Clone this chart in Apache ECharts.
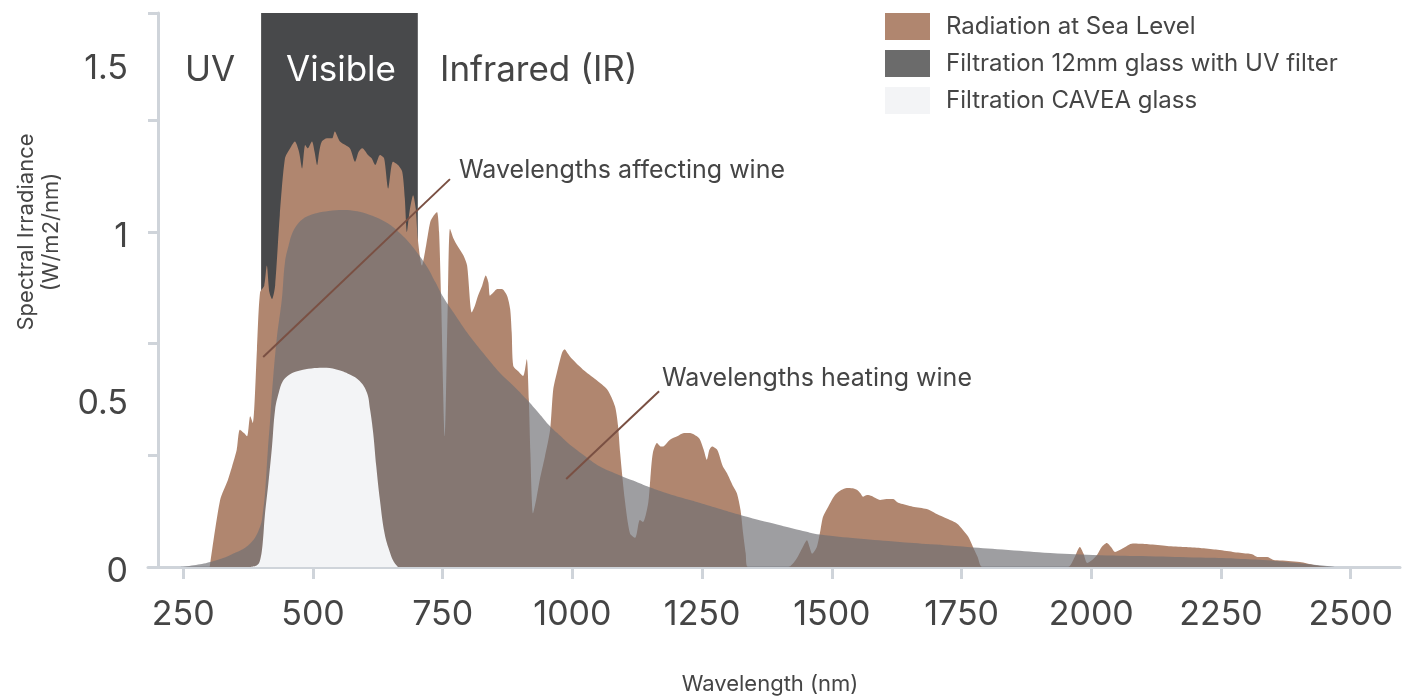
<!DOCTYPE html>
<html><head><meta charset="utf-8">
<script src="https://cdn.jsdelivr.net/npm/echarts@6/dist/echarts.min.js"></script>
<style>html,body{margin:0;padding:0;background:#fff}#c{width:1406px;height:697px}</style>
</head><body><div id="c"></div>
<script>
const FONT = 'Inter, "Open Sans", sans-serif';
const xTicks = [250, 500, 750, 1000, 1250, 1500, 1750, 2000, 2250, 2500];
const yLabels = [0, 0.5, 1, 1.5];
const yTicks = [0, 1/3, 2/3, 1, 4/3, 1.654];
const seriesNames = ['Radiation at Sea Level', 'Filtration 12mm glass with UV filter', 'Filtration CAVEA glass'];
const visibleBand = [400, 702];
const bandTexts = ['UV', 'Visible', 'Infrared (IR)'];
const noteTexts = ['Wavelengths affecting wine', 'Wavelengths heating wine'];
const affectingLine = [[404, 0.627], [764, 1.158]];
const heatingLine = [[988, 0.263], [1167, 0.525]];

const seaLevel = [[301,0],[321,0.20],[336,0.26],[344,0.30],[353,0.35],[359,0.41],[367,0.40],[373,0.39],[379,0.45],[384,0.43],[392,0.65],[398,0.82],[406,0.84],[411,0.90],[416,0.82],[421,0.80],[427,0.84],[436,1.05],[446,1.22],[456,1.25],[465,1.27],[473,1.24],[479,1.19],[485,1.26],[490,1.25],[498,1.27],[503,1.24],[508,1.20],[512,1.24],[517,1.27],[527,1.28],[537,1.28],[542,1.30],[552,1.27],[571,1.25],[581,1.21],[588,1.24],[595,1.25],[606,1.23],[613,1.22],[620,1.20],[629,1.23],[637,1.22],[645,1.13],[654,1.21],[664,1.20],[672,1.18],[677,1.10],[681,1.00],[686,1.06],[693,1.11],[698,1.07],[702,0.98],[710,0.90],[718,0.96],[726,1.03],[733,1.05],[739,1.06],[743,1.00],[747,0.80],[754,0.39],[760,0.80],[764,1.01],[771,0.98],[778,0.96],[790,0.93],[797,0.90],[806,0.76],[812,0.78],[818,0.81],[826,0.84],[833,0.87],[838,0.85],[841,0.81],[848,0.82],[855,0.83],[864,0.83],[874,0.81],[880,0.77],[883,0.70],[886,0.60],[895,0.585],[905,0.57],[912,0.62],[916,0.50],[919,0.34],[924,0.16],[930,0.20],[937,0.26],[947,0.33],[957,0.41],[963,0.53],[970,0.58],[980,0.64],[985,0.65],[990,0.64],[1000,0.62],[1020,0.59],[1045,0.56],[1067,0.53],[1082,0.48],[1088,0.42],[1092,0.34],[1101,0.20],[1111,0.10],[1121,0.087],[1130,0.14],[1136,0.134],[1146,0.19],[1150,0.26],[1155,0.34],[1163,0.37],[1170,0.36],[1175,0.36],[1182,0.37],[1188,0.38],[1202,0.39],[1215,0.40],[1227,0.40],[1240,0.39],[1246,0.38],[1253,0.35],[1259,0.32],[1264,0.35],[1269,0.36],[1279,0.35],[1290,0.30],[1298,0.28],[1310,0.24],[1317,0.22],[1324,0.17],[1329,0.10],[1334,0.04],[1338,0],[1416,0],[1430,0.02],[1444,0.06],[1452,0.08],[1457,0.06],[1462,0.04],[1471,0.06],[1478,0.11],[1483,0.15],[1493,0.18],[1506,0.215],[1518,0.23],[1529,0.236],[1540,0.235],[1549,0.23],[1555,0.22],[1560,0.21],[1568,0.215],[1577,0.212],[1585,0.205],[1593,0.20],[1605,0.203],[1618,0.203],[1625,0.195],[1631,0.19],[1656,0.18],[1683,0.173],[1700,0.16],[1714,0.15],[1741,0.13],[1753,0.11],[1763,0.09],[1772,0.06],[1781,0.03],[1790,0],[1955,0],[1968,0.03],[1978,0.06],[1985,0.04],[1992,0.012],[2001,0.02],[2011,0.036],[2020,0.06],[2030,0.072],[2038,0.06],[2046,0.045],[2060,0.055],[2080,0.07],[2110,0.068],[2146,0.063],[2180,0.06],[2210,0.057],[2240,0.052],[2273,0.045],[2300,0.04],[2310,0.038],[2320,0.03],[2339,0.03],[2350,0.022],[2358,0.02],[2380,0.018],[2402,0.015],[2430,0.006],[2454,0]];

const glass12mm = [[244,0],[270,0.005],[302,0.015],[340,0.035],[379,0.07],[398,0.12],[404,0.17],[408,0.23],[413,0.35],[417,0.43],[421,0.52],[430,0.68],[440,0.80],[446,0.91],[453,0.96],[461,1.0],[471,1.025],[481,1.04],[494,1.05],[508,1.057],[530,1.063],[558,1.066],[585,1.062],[610,1.051],[630,1.038],[649,1.021],[665,1.0],[681,0.976],[700,0.94],[720,0.896],[736,0.85],[751,0.806],[775,0.75],[797,0.70],[830,0.635],[860,0.58],[887,0.54],[912,0.50],[935,0.46],[957,0.42],[980,0.387],[1001,0.358],[1027,0.328],[1053,0.30],[1085,0.278],[1117,0.258],[1150,0.237],[1182,0.22],[1214,0.205],[1246,0.191],[1278,0.176],[1310,0.161],[1343,0.147],[1375,0.134],[1407,0.122],[1439,0.11],[1477,0.097],[1550,0.085],[1631,0.075],[1700,0.067],[1761,0.06],[1840,0.051],[1921,0.042],[2017,0.035],[2110,0.032],[2210,0.028],[2280,0.025],[2339,0.02],[2400,0.011],[2440,0.005],[2470,0]];

const caveaGlass = [[380,0],[392,0.005],[398,0.02],[403,0.07],[407,0.15],[414,0.25],[421,0.36],[427,0.47],[434,0.52],[442,0.555],[455,0.575],[475,0.587],[497,0.593],[519,0.595],[545,0.59],[571,0.575],[590,0.555],[604,0.52],[610,0.47],[616,0.40],[622,0.30],[629,0.20],[638,0.10],[648,0.045],[656,0.015],[664,0]];

const COLORS = { sea: '#b0866f', glass: 'rgba(112,112,116,0.68)', glassLegend: '#6b6b6b', cavea: '#f3f4f6', band: '#48494b', axis: '#cfd4da', text: '#454545', note: '#7a5043' };

const chart = echarts.init(document.getElementById('c'));
const areaSeries = (name, data, color, z, smooth) => ({
  name, type: 'line', data, z, smooth, symbol: 'none', showSymbol: false,
  lineStyle: { width: 0 }, itemStyle: { color },
  areaStyle: { color, opacity: 1 }, emphasis: { disabled: true }, silent: true
});
const s1 = areaSeries(seriesNames[0], seaLevel, COLORS.sea, 2, 0.25);
s1.markArea = { silent: true, itemStyle: { color: COLORS.band }, label: { show: false },
  data: [[{ xAxis: visibleBand[0] }, { xAxis: visibleBand[1] }]] };
const s2 = areaSeries(seriesNames[1], glass12mm, COLORS.glass, 3, 0.4);
const s3 = areaSeries(seriesNames[2], caveaGlass, COLORS.cavea, 4, 0.4);
s3.markLine = { silent: true, symbol: 'none', label: { show: false },
  lineStyle: { color: COLORS.note, width: 2, type: 'solid' },
  data: [[{ coord: affectingLine[0] }, { coord: affectingLine[1] }], [{ coord: heatingLine[0] }, { coord: heatingLine[1] }]] };

const txt = (text, x, y, size, fill, align) => ({ type: 'text', x, y, z: 100, silent: true,
  style: { text, fill, fontSize: size, fontFamily: FONT, align, verticalAlign: 'middle' } });

chart.setOption({
  animation: false,
  textStyle: { fontFamily: FONT },
  grid: { left: 148, right: 6, top: 13, bottom: 130 },
  legend: {
    orient: 'vertical', left: 885, top: 13, padding: 0, itemWidth: 45, itemHeight: 27, itemGap: 10,
    icon: 'rect', selectedMode: false,
    textStyle: { fontSize: 24, color: COLORS.text, fontFamily: FONT, padding: [0, 0, 0, 11] },
    data: [
      { name: seriesNames[0], itemStyle: { color: COLORS.sea } },
      { name: seriesNames[1], itemStyle: { color: COLORS.glassLegend } },
      { name: seriesNames[2], itemStyle: { color: COLORS.cavea } }
    ]
  },
  xAxis: {
    type: 'value', min: 182, max: 2595, splitLine: { show: false },
    axisLine: { lineStyle: { color: COLORS.axis, width: 3 } },
    axisTick: { customValues: xTicks, length: 12, lineStyle: { color: COLORS.axis, width: 3 } },
    axisLabel: { customValues: xTicks, fontSize: 34, color: COLORS.text, margin: 31, fontFamily: FONT,
      formatter: v => String(v) }
  },
  yAxis: {
    type: 'value', min: 0, max: 1.654, offset: -10, splitLine: { show: false },
    axisLine: { show: true, lineStyle: { color: COLORS.axis, width: 3 } },
    axisTick: { show: true, customValues: yTicks, length: 10, lineStyle: { color: COLORS.axis, width: 3 } },
    axisLabel: { customValues: yLabels, color: COLORS.text, margin: 30, fontFamily: FONT,
      formatter: v => '{a|' + String(v) + '}',
      rich: { a: { fontSize: 34, color: COLORS.text, fontFamily: FONT, padding: [9, 0, 0, 0] } } }
  },
  graphic: [
    txt(bandTexts[0], 210, 70, 35, COLORS.text, 'center'),
    txt(bandTexts[1], 341, 70, 35, '#ffffff', 'center'),
    txt(bandTexts[2], 440, 70, 35, COLORS.text, 'left'),
    txt(noteTexts[0], 459, 170, 25, COLORS.text, 'left'),
    txt(noteTexts[1], 662, 378, 25, COLORS.text, 'left'),
    txt('Wavelength (nm)', 770, 684, 22, COLORS.text, 'center'),
    { type: 'text', x: 39, y: 232, rotation: Math.PI / 2, z: 100, silent: true,
      style: { text: 'Spectral Irradiance\n(W/m2/nm)', fill: COLORS.text, fontSize: 22, lineHeight: 25,
        fontFamily: FONT, align: 'center', verticalAlign: 'middle' } }
  ],
  series: [s1, s2, s3]
});
</script></body></html>
